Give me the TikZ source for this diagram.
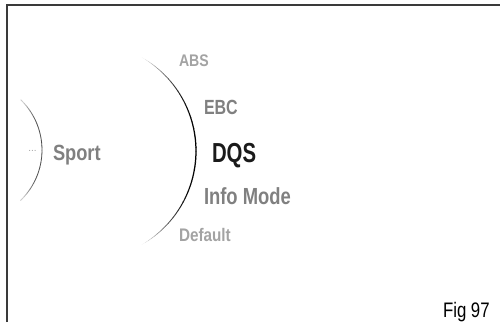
\documentclass[tikz,border=0pt]{standalone}
\usepackage{graphicx}
\usepackage{fontspec}
\setmainfont{Liberation Sans}
\newcommand\cndtext[3]{\scalebox{#1}[1]{\bfseries\fontsize{#2}{#2}\selectfont #3}}
\definecolor{lightgr}{HTML}{A3A3A3}
\definecolor{midgr}{HTML}{808080}
\definecolor{darkt}{HTML}{1A1A1A}
\definecolor{framecol}{HTML}{3A3A3A}
\tikzset{
  lbl/.style={anchor=base west, inner sep=0pt, outer sep=0pt},
}
\begin{document}
\begin{tikzpicture}[x=1pt,y=-1pt]
\useasboundingbox (0,0) rectangle (500,322);
% frame
\draw[framecol, line width=1.4pt] (7,322) -- (7,5) -- (500,5);
% big arc with fading ends
\foreach \a in {-60,-58,...,58}{
  \pgfmathsetmacro{\t}{abs(\a+1)/60}
  \pgfmathsetmacro{\p}{max(0,100*(1-\t*\t*\t))}
  \pgfmathsetmacro{\w}{0.25+1.0*(1-\t*\t)}
  \draw[line width=\w pt, black!\p!white] ({88+108*cos(\a)},{151+108*sin(\a)}) arc[start angle=\a, end angle=\a+2.2, radius=108];
}
% small arc
\foreach \a in {-46,-44,...,44}{
  \pgfmathsetmacro{\t}{abs(\a+1)/46}
  \pgfmathsetmacro{\p}{max(20,70*(1-\t*\t*\t*\t))}
  \draw[line width=0.8pt, black!\p!white] ({-28+70*cos(\a)},{150+70*sin(\a)}) arc[start angle=\a, end angle=\a+2.2, radius=70];
}
% labels
\node[lbl, text=lightgr] (abs) at (179,66) {\cndtext{0.84}{16.8}{ABS}};
\node[lbl, text=midgr] (ebc) at (204,114) {\cndtext{0.78}{20.5}{EBC}};
\node[lbl, text=darkt] (dqs) at (212,162) {\cndtext{0.74}{27.5}{DQS}};
\node[lbl, text=midgr] (info) at (204,204) {\cndtext{0.79}{23.3}{Info Mode}};
\node[lbl, text=lightgr] (def) at (179,241) {\cndtext{0.84}{18.2}{Default}};
\node[lbl, text=midgr] (sport) at (53,160) {\cndtext{0.83}{22}{Sport}};
\node[text=lightgr, inner sep=0pt] (dots) at (32.5,151) {\fontsize{10}{12}\selectfont ...};
\node[lbl, text=black] (fig) at (443,317) {\scalebox{0.8}[1]{\fontsize{21}{23}\selectfont Fig 97}};
\end{tikzpicture}
\end{document}
